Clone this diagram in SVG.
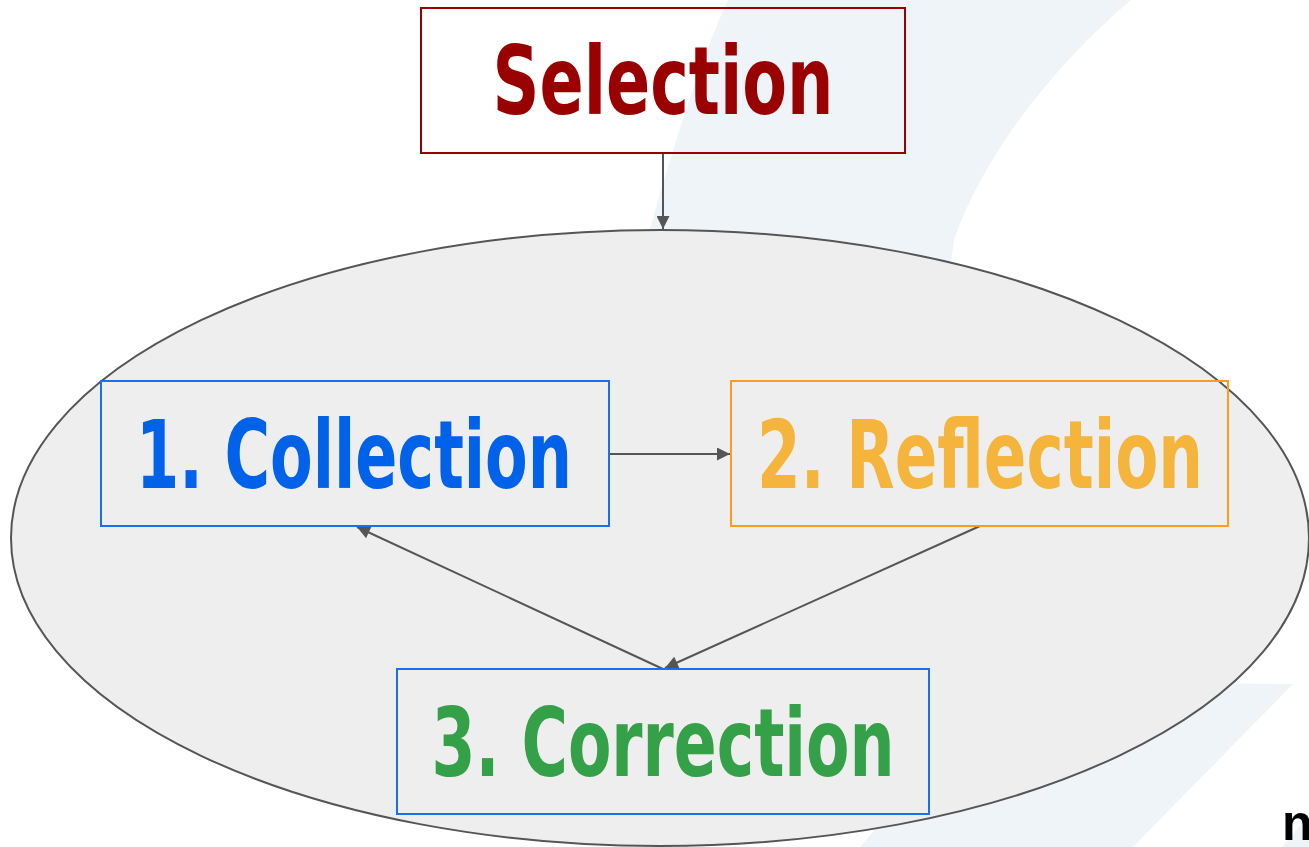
<svg xmlns="http://www.w3.org/2000/svg" width="1309" height="847" viewBox="0 0 1309 847">
<defs>
<marker id="ah" viewBox="0 0 10 10" refX="10" refY="5" markerWidth="15" markerHeight="13" orient="auto" markerUnits="userSpaceOnUse">
<path d="M0,0 L10,5 L0,10 Z" fill="#555555"/>
</marker>
<style>
.lbl{font-family:"Liberation Sans Narrow","DejaVu Sans Condensed","Liberation Sans",sans-serif;font-weight:bold;font-size:95px;text-anchor:middle}
.box{fill:none;stroke-width:2}
.conn{stroke:#555555;stroke-width:2;fill:none;marker-end:url(#ah)}
</style>
</defs>
<rect width="1309" height="847" fill="#ffffff"/>
<g id="watermark" fill="#eff4f9">
<path d="M728,0 L1131,0 C1060,60 985,150 954,240 L930,420 L600,420 L647,240 C672,150 700,60 728,0 Z"/>
<path d="M1000,682 L1293,684 L1133,847 L860,847 Z"/>
<path d="M1282,847 L1309,815 L1309,847 Z"/>
</g>
<g id="cycle">
<ellipse cx="660" cy="538" rx="649" ry="308" fill="#eeeeee" stroke="#555555" stroke-width="2"/>
</g>
<g id="connectors">
<line class="conn" x1="663" y1="153" x2="663" y2="229"/>
<line class="conn" x1="609" y1="454" x2="730" y2="454"/>
<line class="conn" x1="980" y1="526" x2="665" y2="668"/>
<line class="conn" x1="663" y1="669" x2="357" y2="527"/>
</g>
<g id="selection">
<rect class="box" x="421" y="8" width="484" height="145" stroke="#990000"/>
<text class="lbl" x="663" y="114" fill="#990000" textLength="341" lengthAdjust="spacingAndGlyphs">Selection</text>
</g>
<g id="collection">
<rect class="box" x="101" y="381" width="508" height="145" stroke="#1a6ef0"/>
<text class="lbl" x="354" y="488" fill="#0062e8" textLength="436" lengthAdjust="spacingAndGlyphs">1. Collection</text>
</g>
<g id="reflection">
<rect class="box" x="731" y="381" width="497" height="145" stroke="#ff9d1a"/>
<text class="lbl" x="980" y="488" fill="#f5b43b" textLength="446" lengthAdjust="spacingAndGlyphs">2. Reflection</text>
</g>
<g id="correction">
<rect class="box" x="397" y="669" width="532" height="145" stroke="#1a6ef0"/>
<text class="lbl" x="663" y="776" fill="#34a048" textLength="463" lengthAdjust="spacingAndGlyphs">3. Correction</text>
</g>
<text x="1282" y="840" font-family="Liberation Sans,sans-serif" font-weight="bold" font-size="50" fill="#000000">n</text>
</svg>
